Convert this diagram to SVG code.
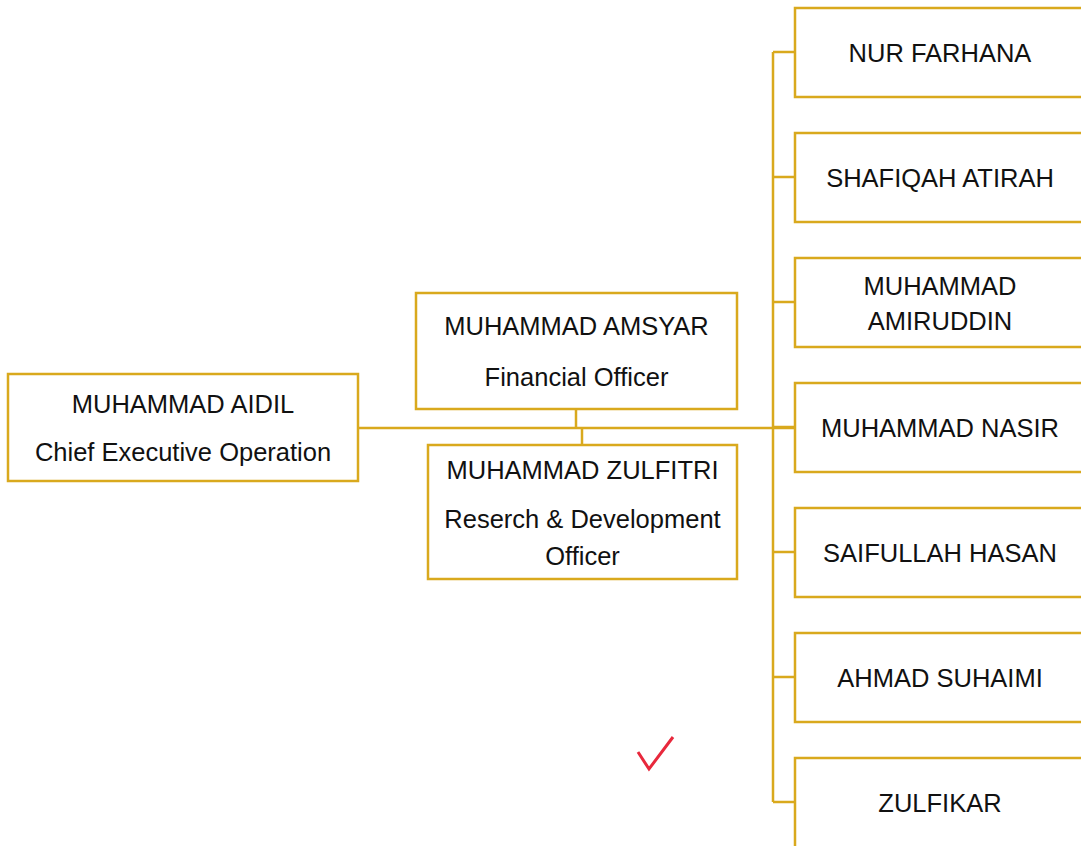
<svg xmlns="http://www.w3.org/2000/svg" width="1081" height="846" viewBox="0 0 1081 846">
<style>
.box{fill:#fff;stroke:#D9A91D;stroke-width:2.5}
.ln{fill:none;stroke:#D9A91D;stroke-width:2.5}
text{font-family:"Liberation Sans",Arial,sans-serif;font-size:25.5px;fill:#111;text-anchor:middle}
</style>
<rect width="1081" height="846" fill="#fff"/>
<g id="connectors">
<path class="ln" d="M358,428 H795"/>
<path class="ln" d="M576,409 V428"/>
<path class="ln" d="M582,428 V445"/>
<path class="ln" d="M773,52 V802"/>
<path class="ln" d="M773,52 H795 M773,177 H795 M773,302 H795 M773,427 H795 M773,552 H795 M773,677 H795 M773,802 H795"/>
</g>
<g id="ceo"><rect class="box" x="8" y="374" width="350" height="107"/><text x="183" y="413">MUHAMMAD AIDIL</text><text x="183" y="461">Chief Executive Operation</text></g>
<g id="amsyar"><rect class="box" x="416" y="293" width="321" height="116"/><text x="576.5" y="335">MUHAMMAD AMSYAR</text><text x="576.5" y="386">Financial Officer</text></g>
<g id="zulfitri"><rect class="box" x="428" y="445" width="309" height="134"/><text x="582.5" y="479">MUHAMMAD ZULFITRI</text><text x="582.5" y="528">Reserch &amp; Development</text><text x="582.5" y="565">Officer</text></g>
<g id="nur"><rect class="box" x="795" y="8" width="300" height="89"/><text x="940" y="62">NUR FARHANA</text></g>
<g id="shafiqah"><rect class="box" x="795" y="133" width="300" height="89"/><text x="940" y="187">SHAFIQAH ATIRAH</text></g>
<g id="amiruddin"><rect class="box" x="795" y="258" width="300" height="89"/><text x="940" y="295">MUHAMMAD</text><text x="940" y="330">AMIRUDDIN</text></g>
<g id="nasir"><rect class="box" x="795" y="383" width="300" height="89"/><text x="940" y="437">MUHAMMAD NASIR</text></g>
<g id="saifullah"><rect class="box" x="795" y="508" width="300" height="89"/><text x="940" y="562">SAIFULLAH HASAN</text></g>
<g id="ahmad"><rect class="box" x="795" y="633" width="300" height="89"/><text x="940" y="687">AHMAD SUHAIMI</text></g>
<g id="zulfikar"><rect class="box" x="795" y="758" width="300" height="100"/><text x="940" y="812">ZULFIKAR</text></g>
<path d="M638,752 L649,769 L673,737" fill="none" stroke="#E8283C" stroke-width="3"/>
</svg>
